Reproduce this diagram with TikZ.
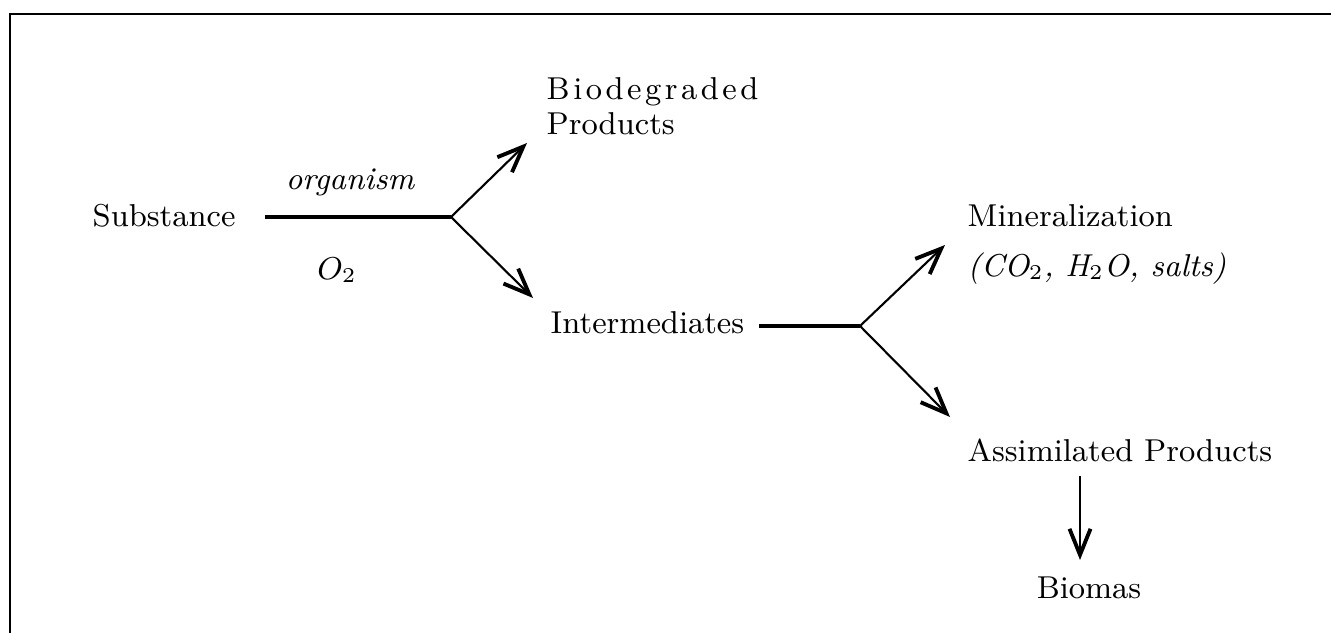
\documentclass[tikz,border=0pt]{standalone}
\usepackage{fontspec}
\usepackage{amsmath}
\usetikzlibrary{arrows.meta, positioning, calc}

\begin{document}
\begin{tikzpicture}[
    lbl/.style={inner sep=0pt, font=\fontsize{9}{10}\selectfont},
    flow/.style={line width=0.6pt, -{Straight Barb[length=2.6mm, width=2.1mm, line width=1.1pt]}},
    plain/.style={line width=0.9pt}
]
    \useasboundingbox (0,0) rectangle (13.31,6.33);

    % Frame (top and left only)
    \draw[line width=0.7pt] (0.10,0) -- (0.10,6.19) -- (13.31,6.19);

    % First stage
    \node[lbl, anchor=west] (sub) at (0.92,4.17) {Substance};
    \coordinate (j1) at (4.51,4.16);
    \node[lbl, font=\fontsize{9}{10}\selectfont\itshape] (org) at (3.50,4.51) {organism};
    \node[lbl] (oxy) at (3.37,3.63) {$O_2$};
    \draw[plain, shorten <=0.29cm] (sub.east |- j1) -- (j1);

    \node[lbl, anchor=west, align=left] (bio) at (5.46,5.265)
        {B\kern1pt i\kern1pt o\kern1pt d\kern1pt e\kern1pt g\kern1pt r\kern1pt a\kern1pt d\kern1pt e\kern1pt d\\Products};
    \node[lbl, anchor=west] (inter) at (5.50,3.10) {Intermediates};
    \coordinate (bioTip) at (5.27,4.90);
    \coordinate (interTip) at (5.33,3.35);
    \draw[flow] (j1) -- (bioTip);
    \draw[flow] (j1) -- (interTip);

    % Second stage
    \coordinate (j2) at (8.60,3.07);
    \draw[plain, shorten <=0.14cm] (inter.east |- j2) -- (j2);

    \node[lbl, anchor=west, align=left] (min) at (9.67,3.885)
        {Mineralization\\[4pt]\textit{(CO$_2$, H$_2$O, salts)}};
    \node[lbl, anchor=west] (ass) at (9.67,1.83) {Assimilated Products};
    \coordinate (minTip) at (9.45,3.88);
    \coordinate (assTip) at (9.50,2.16);
    \draw[flow] (j2) -- (minTip);
    \draw[flow] (j2) -- (assTip);

    % Biomass
    \node[lbl] (bm) at (10.89,0.45) {Biomas};
    \coordinate (bmTip) at (10.80,0.73);
    \draw[flow, shorten <=0.14cm] (ass.south -| bmTip) -- (bmTip);
\end{tikzpicture}
\end{document}
